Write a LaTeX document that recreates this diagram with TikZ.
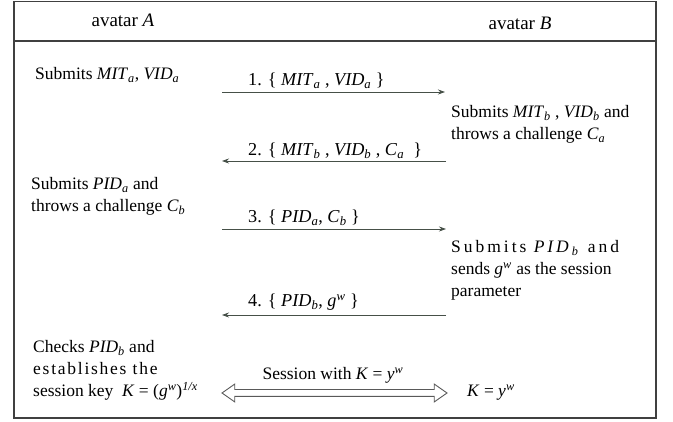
\documentclass[tikz,border=0pt]{standalone}
\usepackage{fontspec}
\setmainfont{Liberation Serif}
\newfontfamily\spacedfont[LetterSpace=10]{Liberation Serif}
\newfontfamily\widefont[LetterSpace=17]{Liberation Serif}
\usetikzlibrary{shapes.arrows,arrows.meta}
\newcommand\iv[2]{\textit{#1}\textsubscript{\textit{#2}}}
\newcommand\ip[2]{\textit{#1}\textsuperscript{\textit{#2}}}
\definecolor{msgc}{RGB}{70,80,72}
\tikzset{
  frame/.style={draw=black!75, line width=1.2pt},
  msg/.style={draw=msgc, line width=0.8pt, -{Stealth[length=7pt,width=5pt]}},
  txt/.style={anchor=base west, inner sep=0pt, font=\fontsize{17.5}{22}\selectfont, align=left},
  head/.style={anchor=base, inner sep=0pt, font=\fontsize{19}{22}\selectfont},
  lbl/.style={anchor=base west, inner sep=0pt, font=\fontsize{18.2}{22}\selectfont}
}
\begin{document}
\begin{tikzpicture}[x=1pt,y=-1pt]
\useasboundingbox (0,0) rectangle (673,422);
\draw[frame] (14,1.5) rectangle (656,418);
\draw[frame] (14,41) -- (656,41);
\node[head] (hA) at (123,27) {avatar \textit{A}};
\node[head] (hB) at (520,30) {avatar \textit{B}};
% left texts
\node[txt] (tA1) at (35,80) {Submits \iv{MIT}{a}, \iv{VID}{a}};
\node[txt] (tA2) at (31,212) {Submits \iv{PID}{a} and\\throws a challenge \iv{C}{b}};
\node[txt] (tA3) at (33,397) {Checks \iv{PID}{b} and\\{\spacedfont establishes the}\\session key\ \ \textit{K} = (\ip{g}{w})\textsuperscript{\textit{1/x}}};
% right texts
\node[txt] (tB1) at (451,140) {Submits \iv{MIT}{b} , \iv{VID}{b} and\\throws a challenge \iv{C}{a}};
\node[txt] (tB2) at (451,297) {{\widefont Submits \iv{PID}{b} and}\\sends \ip{g}{w} as the session\\parameter};
\node[txt] (tB3) at (467,397) {\textit{K} = \ip{y}{w}};
% message arrows
\coordinate (m1s) at (222,92);  \coordinate (m1e) at (445,92);
\coordinate (m2s) at (446,161); \coordinate (m2e) at (222,161);
\coordinate (m3s) at (222,229); \coordinate (m3e) at (446,229);
\coordinate (m4s) at (446,315); \coordinate (m4e) at (222,315);
\draw[msg] (m1s) -- (m1e);
\draw[msg] (m2s) -- (m2e);
\draw[msg] (m3s) -- (m3e);
\draw[msg] (m4s) -- (m4e);
\node[lbl] (l1) at (248,86) {1. \{ \iv{MIT}{a} , \iv{VID}{a} \}};
\node[lbl] (l2) at (248,156) {2. \{ \iv{MIT}{b} , \iv{VID}{b} , \iv{C}{a}\ \ \}};
\node[lbl] (l3) at (248,223) {3. \{ \iv{PID}{a}, \iv{C}{b} \}};
\node[lbl] (l4) at (248,307) {4. \{ \iv{PID}{b}, \ip{g}{w} \}};
% session double arrow
\node[double arrow, draw=black!65, line width=0.9pt, fill=white, minimum height=225pt,
      inner sep=3pt, double arrow head extend=5.5pt, double arrow tip angle=70] (sess) at (334.5,393) {};
\node[lbl, anchor=base, font=\fontsize{17.5}{22}\selectfont] (sl) at (333,380) {Session with \textit{K} = \ip{y}{w}};
\end{tikzpicture}
\end{document}
